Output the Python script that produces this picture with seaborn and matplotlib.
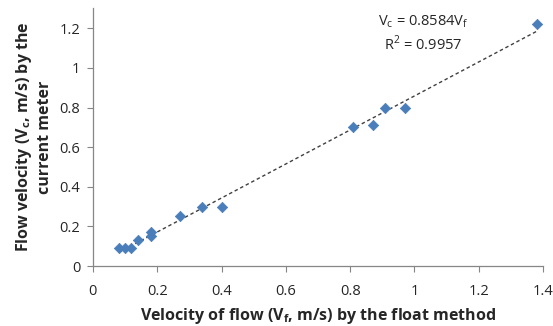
import matplotlib
matplotlib.use("Agg")
import matplotlib.pyplot as plt
import seaborn as sns
import numpy as np
import pandas as pd

# velocity readings (m/s)
float_vel = [0.08, 0.10, 0.12, 0.14, 0.18, 0.18, 0.27, 0.34, 0.40, 0.81, 0.87, 0.91, 0.97, 1.38]
meter_vel = [0.09, 0.09, 0.09, 0.13, 0.17, 0.15, 0.25, 0.30, 0.30, 0.70, 0.71, 0.80, 0.80, 1.22]
slope = 0.8584
r2 = 0.9957

df = pd.DataFrame({"Vf": float_vel, "Vc": meter_vel})

sns.set_style("white")
plt.rcParams['font.family'] = ['Open Sans', 'DejaVu Sans']

fig = plt.figure(figsize=(5.53, 3.26), dpi=100)
ax = fig.add_axes([0.168, 0.184, 0.814, 0.79])

sns.scatterplot(x="Vf", y="Vc", data=df, marker="D", s=28, color="#4a7ebb",
                edgecolor="#4a7ebb", linewidth=0.5, ax=ax, zorder=3)

# trendline through origin
xs = np.array([min(float_vel), max(float_vel)])
ax.plot(xs, slope * xs, ls=(0, (2.5, 2)), color="#404040", lw=1.0, zorder=2)

ax.text(1.027, 1.235, "V$_\\mathregular{c}$ = 0.8584V$_\\mathregular{f}$", ha="center", va="center", fontsize=10.5)
ax.text(1.027, 1.12, "R$^\\mathregular{2}$ = 0.9957", ha="center", va="center", fontsize=10.5)

ax.set_xlim(0, 1.4)
ax.set_ylim(0, 1.3)
ax.set_xticks(np.arange(0, 1.41, 0.2))
ax.set_yticks(np.arange(0, 1.21, 0.2))
ax.set_xticklabels(["0", "0.2", "0.4", "0.6", "0.8", "1", "1.2", "1.4"])
ax.set_yticklabels(["0", "0.2", "0.4", "0.6", "0.8", "1", "1.2"])
ax.tick_params(axis="both", labelsize=10.5, length=4, color="#868686", direction="out",
               bottom=True, left=True, pad=5)
ax.tick_params(axis="x", pad=9)

for side in ["top", "right"]:
    ax.spines[side].set_visible(False)
for side in ["left", "bottom"]:
    ax.spines[side].set_color("#868686")
    ax.spines[side].set_linewidth(0.9)

ax.set_xlabel("Velocity of flow (V$_\\mathregular{f}$, m/s) by the float method", fontsize=11.5, fontweight="bold", labelpad=5)
ax.set_ylabel("Flow velocity (V$_\\mathregular{c}$, m/s) by the\ncurrent meter", fontsize=11.5, fontweight="bold", labelpad=5)

fig.savefig("out.png", dpi=100)
